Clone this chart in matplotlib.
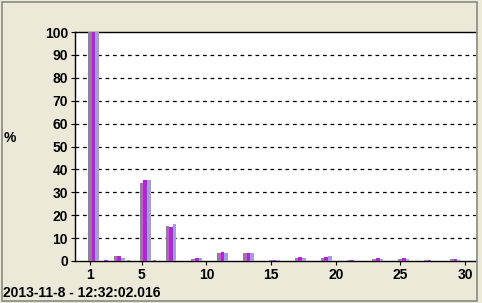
import numpy as np
import matplotlib
matplotlib.use("Agg")
import matplotlib.pyplot as plt
from matplotlib.patches import Rectangle

# values (percent per bin)
bins = [1, 2, 3, 4, 5, 6, 7, 9, 11, 13, 15, 17, 19, 21, 23, 25, 27, 29]
grey = [100, 0, 2.2, 0.4, 34.2, 0.4, 15.5, 1.0, 3.6, 3.4, 0.4, 1.5, 1.5, 0.4, 0.8, 1.0, 0.3, 0.7]
magenta = [100, 0.4, 2.2, 0, 35.4, 0, 15.0, 1.3, 4.1, 3.3, 0.5, 1.9, 1.8, 0.5, 1.3, 1.1, 0.3, 1.0]
lavender = [100, 0, 1.4, 0, 35.3, 0, 16.0, 1.2, 3.7, 3.5, 0.3, 1.2, 2.0, 0.2, 0.8, 0.9, 0.2, 0.5]
xticks = [1, 5, 10, 15, 20, 25, 30]
yticks = list(range(0, 101, 10))
stamp = "2013-11-8 - 12:32:02.016"

bg = "#ECE9D8"
font = "Liberation Sans"

fig = plt.figure(figsize=(4.82, 3.03), dpi=100, facecolor=bg)
ax = fig.add_axes([75 / 482, 42 / 303, 401 / 482, 229 / 303])
ax.set_facecolor("white")

x = np.array(bins, dtype=float)
w = 0.28
ax.bar(x - 0.02, grey, w, color="#8E7F95", zorder=3)
ax.bar(x + 0.26, magenta, w, color="#C01CDC", zorder=3)
ax.bar(x + 0.54, lavender, w, color="#A898E6", zorder=3)

ax.set_xlim(-0.16, 30.85)
ax.set_ylim(0, 100)
ax.set_xticks(xticks)
ax.set_yticks(yticks)
for y in yticks[1:-1]:
    ax.axhline(y, color="black", lw=0.9, ls=(0, (3, 3)), zorder=1)

ax.tick_params(axis="both", direction="out", length=3, width=0.8, pad=2,
               labelsize=10)
for lab in ax.get_xticklabels() + ax.get_yticklabels():
    lab.set_fontfamily(font)
    lab.set_fontweight("bold")

for s in ["top", "left", "bottom"]:
    ax.spines[s].set_color("black")
    ax.spines[s].set_linewidth(1.0)
ax.spines["right"].set_visible(False)

fig.text(10 / 482, 1 - 138 / 303, "%", fontsize=10, fontweight="bold",
         family=font, ha="center", va="center")
fig.text(3 / 482, 1 - 293 / 303, stamp, fontsize=10, fontweight="bold",
         family=font, ha="left", va="center")

# sunken panel border
fig.patches.append(Rectangle((2 / 482, 2 / 303), 475 / 482, 299 / 303,
                             transform=fig.transFigure, fill=False,
                             edgecolor="#8A8A80", lw=1.2))

fig.savefig("out.png", dpi=100, facecolor=bg)
